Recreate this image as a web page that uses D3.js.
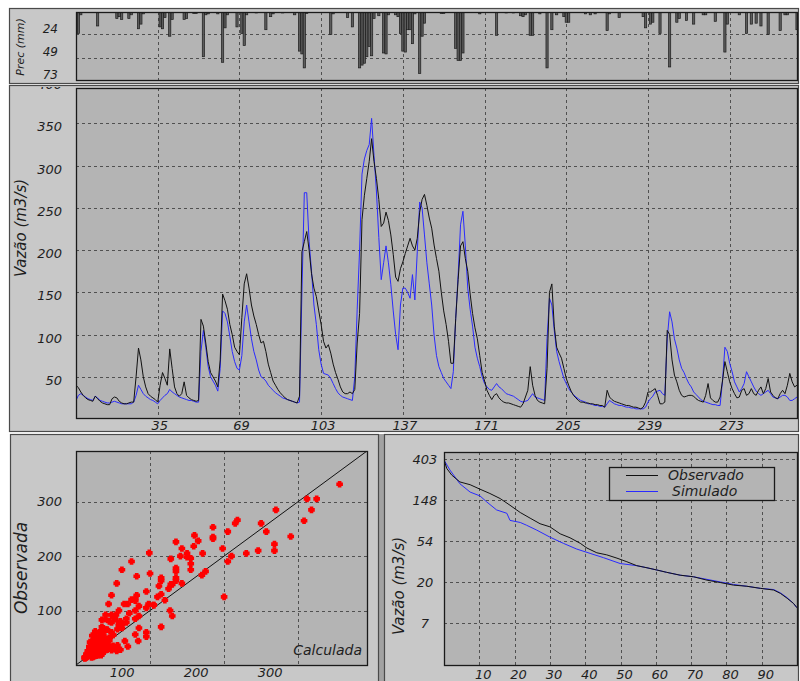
<!DOCTYPE html>
<html>
<head>
<meta charset="utf-8">
<script src="https://cdn.jsdelivr.net/npm/d3@7"></script>
<style>
  body { margin: 0; background: #fff; }
  svg text { font-family: "DejaVu Sans", sans-serif; font-style: italic; fill: #1e1e1e; }
</style>
</head>
<body>
<svg id="chart" width="800" height="681"></svg>
<script>
// ---- dados ----
var observado = [
  40, 37, 32, 28, 25, 23, 22, 21, 27, 24,
  21, 19, 18, 17, 17, 24, 26, 25, 21, 19,
  18, 18, 19, 20, 20, 50, 84, 70, 50, 38,
  30, 27, 25, 23, 20, 40, 55, 48, 40, 83,
  60, 38, 30, 27, 30, 44, 28, 25, 23, 22,
  21, 22, 118, 110, 90, 68, 55, 50, 45, 38,
  70, 148, 140, 130, 112, 100, 85, 80, 76, 120,
  160, 172, 155, 135, 122, 112, 100, 90, 92, 80,
  65, 55, 45, 40, 35, 31, 28, 25, 23, 22,
  21, 20, 19, 27, 198, 210, 222, 200, 172, 155,
  145, 128, 112, 92, 84, 88, 78, 65, 55, 47,
  38, 32, 30, 30, 32, 30, 35, 90, 125, 236,
  265, 285, 305, 332, 305, 285, 260, 228, 232, 245,
  235, 218, 195, 168, 163, 178, 186, 196, 205, 214,
  205, 200, 214, 245, 260, 266, 253, 238, 226, 206,
  190, 175, 150, 128, 112, 92, 66, 66, 119, 165,
  205, 210, 190, 175, 148, 125, 108, 95, 75, 55,
  45, 34, 28, 23, 28, 30, 25, 22, 20, 19,
  19, 18, 17, 16, 15, 14, 18, 26, 34, 62,
  40, 28, 22, 20, 19, 18, 60, 150, 160, 110,
  85, 78, 72, 60, 48, 40, 33, 28, 25, 22,
  20, 20, 19, 19, 18, 18, 17, 17, 16, 16,
  14, 34, 26, 23, 21, 20, 19, 18, 17, 16,
  16, 15, 14, 14, 13, 12, 14, 20, 32, 32,
  34, 36, 28, 18, 18, 20, 105, 100, 70, 52,
  44, 34, 28, 26, 27, 28, 28, 27, 24, 22,
  21, 20, 28, 42, 25, 22, 20, 20, 26, 45,
  68, 56, 44, 36, 30, 25, 26, 34, 36, 28,
  30, 36, 30, 28, 34, 38, 30, 36, 48, 32,
  28, 25, 24, 30, 34, 30, 40, 54, 44, 38,
  40
];
var simulado = [
  22, 28, 30, 28, 26, 24, 23, 22, 27, 25,
  22, 21, 20, 19, 19, 20, 21, 20, 19, 18,
  18, 18, 18, 18, 20, 28, 40, 35, 30, 27,
  25, 23, 22, 20, 18, 22, 25, 28, 30, 35,
  32, 30, 28, 26, 25, 24, 23, 22, 22, 21,
  20, 20, 80, 105, 85, 62, 50, 45, 40, 33,
  60, 128, 125, 115, 98, 80, 68, 60, 58, 75,
  115, 135, 115, 95, 80, 70, 58, 50, 48, 45,
  40, 37, 34, 31, 29, 27, 25, 24, 23, 22,
  21, 20, 19, 20, 150, 268, 268, 210, 175, 135,
  112, 82, 65, 54, 53, 52, 48, 42, 36, 31,
  28, 26, 25, 24, 23, 22, 50, 130, 200, 290,
  308, 318, 325, 356, 312, 270, 215, 165, 185, 205,
  185, 159, 128, 100, 82, 135, 155, 155, 150, 143,
  171, 141, 198, 257, 250, 218, 185, 160, 135, 99,
  75, 62, 55, 48, 44, 40, 36, 56, 120, 170,
  230, 246, 205, 155, 130, 110, 85, 72, 62, 50,
  42, 38, 35, 34, 38, 42, 38, 36, 33, 30,
  29, 28, 27, 25, 23, 21, 20, 21, 22, 26,
  30, 26, 25, 24, 23, 22, 95, 143, 135, 105,
  80, 68, 58, 48, 42, 36, 32, 29, 26, 24,
  22, 21, 20, 18, 18, 17, 16, 16, 15, 15,
  14, 18, 22, 20, 18, 17, 16, 16, 15, 14,
  14, 13, 13, 12, 12, 12, 12, 14, 20, 24,
  27, 32, 33, 34, 30, 28, 95, 127, 115, 95,
  84, 70, 60, 55, 48, 42, 38, 32, 29, 26,
  23, 21, 20, 19, 18, 17, 17, 16, 16, 45,
  85, 80, 66, 56, 44, 38, 32, 36, 42, 56,
  50, 44, 38, 33, 30, 28, 30, 32, 34, 30,
  26, 25, 24, 26, 28, 28, 26, 22, 22, 24,
  26
];
var dias = d3.range(1, observado.length + 1);

var precDia = [1,2,3,10,18,19,20,23,24,27,28,29,36,37,38,40,41,46,47,50,
  51,54,55,56,60,62,63,64,68,70,71,72,76,80,82,83,87,92,94,95,
  96,97,107,108,114,116,119,120,121,122,123,124,125,127,129,130,131,134,135,136,
  137,138,139,140,141,142,144,145,146,153,154,159,160,161,162,169,176,180,183,186,
  187,188,190,191,194,197,199,201,204,205,206,213,215,217,222,223,227,237,238,240,
  241,244,248,251,252,255,258,262,263,267,271,272,277,280,282,284,286,289,294,296,
  297,301];
var precMm = [23,23,3,15,7,5,8,7,3,18,13,2,16,18,6,26,8,8,7,1.5,
  1.5,48,3,2,2,54,17,3,16,23,36,3,1,19,5,2,1,3,42,45,
  60,1.5,24,2,6,16,60,57,55,48,37,47,7,4,44,45,3,3,5,23,
  42,43,19,19,34,2,66,26,12,1.5,1.5,39,52,52,44,2,25,1,1,4,
  5,3,25,25,2,60,19,3,5,11,11,2,3,2,20,2,6,5,17,13,
  11,23,59,11,7,9,13,3,3,10,43,13,3,23,13,12,15,24,20,3,
  3,19];

// curva de permanência (% do tempo, vazão)
var permObsPct = [0, 0.8, 2.2, 4.5, 7.4, 10.2, 13, 15.9, 18.7, 21.6, 24.4, 27.2, 30, 32.9, 35.7, 38.6, 40.5, 43.3, 46.1, 49,
  51.8, 54.6, 57.5, 60.3, 63.1, 66.9, 70.7, 74.5, 78.3, 82, 85.8, 89.6, 93.4, 95.3, 97.2, 99, 100];
var permObs = [390, 317, 270, 229, 214, 192, 173, 153, 130, 109, 95, 83, 77, 65, 59, 51.6, 46, 41, 39, 36,
  33, 30, 28.5, 27, 25.5, 23.8, 22.9, 21.1, 19.9, 18.7, 18.2, 17.3, 16.6, 15.3, 13.6, 12, 10.8];
var permSimPct = [0, 1.7, 4.5, 7.4, 10.2, 12.1, 14.9, 17.8, 18.7, 21.6, 23.4, 26.3, 30, 33.8, 37.6, 41.4, 45.2, 49.9,
  54.6, 57.5, 60.3, 63.1, 66.9, 70.7, 74.5, 78.3, 82, 85.8, 89.6, 93.4, 95.3, 97.2, 99, 100];
var permSim = [390, 305, 219, 179, 163, 141, 116, 107, 90, 85.6, 80, 71, 60, 51.6, 44.9, 40.4, 36.4, 31.6,
  30, 28.5, 27, 25.5, 23.8, 22.9, 21.5, 20.2, 19, 18.2, 17.3, 16.8, 15.5, 13.8, 12, 10.8];

var precTicks = [24, 49, 73];
var vazaoTicks = [50, 100, 150, 200, 250, 300, 350, 400];
var diaTicks = [35, 69, 103, 137, 171, 205, 239, 273];
var dispTicks = [100, 200, 300];
var permLnTicks = [2, 3, 4, 5, 6];
var permPctTicks = [10, 20, 30, 40, 50, 60, 70, 80, 90];
var legenda = ["Observado", "Simulado"];

// ---- desenho ----
var svg = d3.select("#chart");
var corPainel = "#c8c8c8", corArea = "#b4b4b4", corGrade = "#505050";
var corObs = "#111111", corSim = "#2a2aff";

function painel(x, y, w, h) {
  svg.append("rect").attr("x", x + 0.5).attr("y", y + 0.5)
    .attr("width", w).attr("height", h)
    .attr("fill", corPainel).attr("stroke", "#4a4a4a").attr("stroke-width", 1.2);
}

function areaGrafico(id, x0, y0, x1, y1) {
  svg.append("clipPath").attr("id", id)
    .append("rect").attr("x", x0).attr("y", y0).attr("width", x1 - x0).attr("height", y1 - y0);
  svg.append("rect").attr("x", x0 + 0.5).attr("y", y0 + 0.5)
    .attr("width", x1 - x0).attr("height", y1 - y0).attr("fill", corArea);
  return svg.append("g").attr("clip-path", "url(#" + id + ")");
}

function borda(x0, y0, x1, y1) {
  svg.append("rect").attr("x", x0 + 0.5).attr("y", y0 + 0.5)
    .attr("width", x1 - x0).attr("height", y1 - y0)
    .attr("fill", "none").attr("stroke", "#1a1a1a").attr("stroke-width", 1.3);
}

function gradeV(g, vals, xs, y0, y1) {
  g.selectAll(null).data(vals).enter().append("line")
    .attr("x1", function(d) { return Math.round(xs(d)) + 0.5; })
    .attr("x2", function(d) { return Math.round(xs(d)) + 0.5; })
    .attr("y1", y0).attr("y2", y1)
    .attr("stroke", corGrade).attr("stroke-dasharray", "3,3");
}
function gradeH(g, vals, ys, x0, x1) {
  g.selectAll(null).data(vals).enter().append("line")
    .attr("y1", function(d) { return Math.round(ys(d)) + 0.5; })
    .attr("y2", function(d) { return Math.round(ys(d)) + 0.5; })
    .attr("x1", x0).attr("x2", x1)
    .attr("stroke", corGrade).attr("stroke-dasharray", "3,3");
}

function tituloY(texto, x, y, tam) {
  svg.append("text").attr("transform", "translate(" + x + "," + y + ") rotate(-90)")
    .attr("text-anchor", "middle").style("font-size", tam + "px").text(texto);
}

// fundo cinza entre os painéis de baixo
svg.append("rect").attr("x", 378).attr("y", 434).attr("width", 7).attr("height", 250).attr("fill", "#a2a2a2");

painel(9, 8, 789, 75);
painel(9, 85, 789, 346);
painel(10, 434, 368, 260);
painel(384, 434, 414, 260);

var x = d3.scaleLinear().domain([1, 301]).range([76, 797]);

// ---- precipitação ----
var yPrec = d3.scaleLinear().domain([0, 73]).range([12, 80]);
var gp = areaGrafico("clipPrec", 76, 12, 797, 80);
gradeH(gp, precTicks.slice(0, 2), yPrec, 76, 797);
gradeV(gp, diaTicks, x, 12, 80);
gp.selectAll(".barra").data(d3.zip(precDia, precMm)).enter().append("rect")
  .attr("class", "barra")
  .attr("x", function(d) { return x(d[0]) - 1.1; })
  .attr("width", 2.2)
  .attr("y", yPrec(0))
  .attr("height", function(d) { return yPrec(d[1]) - yPrec(0); })
  .attr("fill", "#5c5c5c").attr("stroke", "#1c1c1c").attr("stroke-width", 0.7);
borda(76, 12, 797, 80);
svg.selectAll(".tkPrec").data(precTicks).enter().append("text")
  .attr("x", 58).attr("y", function(d) { return yPrec(d) - 1.5; })
  .attr("text-anchor", "end").style("font-size", "12px").text(function(d) { return d; });
tituloY("Prec (mm)", 24, 47, 11);

// ---- hidrograma ----
var y = d3.scaleLinear().domain([0, 392]).range([419, 88]);
var gm = areaGrafico("clipVazao", 76, 88, 797, 418);
gradeH(gm, vazaoTicks, y, 76, 797);
gradeV(gm, diaTicks, x, 88, 418);
var linha = function(serie) {
  return d3.line().x(function(d, i) { return x(dias[i]); }).y(function(d) { return y(d); })(serie);
};
gm.append("path").attr("d", linha(simulado)).attr("fill", "none").attr("stroke", corSim).attr("stroke-width", 1);
gm.append("path").attr("d", linha(observado)).attr("fill", "none").attr("stroke", corObs).attr("stroke-width", 1);
borda(76, 88, 797, 418);

// o rótulo do topo fica quase todo escondido pela borda do painel
svg.append("clipPath").attr("id", "clipPainel").append("rect").attr("x", 9).attr("y", 87).attr("width", 790).attr("height", 344);
svg.append("g").attr("clip-path", "url(#clipPainel)")
  .selectAll("text").data(vazaoTicks).enter().append("text")
  .attr("x", 62).attr("y", function(d) { return y(d) + 8; })
  .attr("text-anchor", "end").style("font-size", "13px").text(function(d) { return d; });
svg.selectAll(".tkDia").data(diaTicks).enter().append("text")
  .attr("x", function(d) { return x(d) + 2; }).attr("y", 429.5)
  .attr("text-anchor", "middle").style("font-size", "13px").text(function(d) { return d; });
tituloY("Vazão (m3/s)", 26, 228, 15);

// ---- dispersão ----
var xd = d3.scaleLinear().domain([0, 393]).range([76, 367]);
var yd = d3.scaleLinear().domain([0, 393]).range([665, 451]);
var gd = areaGrafico("clipDisp", 76, 451, 367, 665);
gradeH(gd, dispTicks, yd, 76, 367);
gradeV(gd, dispTicks, xd, 451, 665);
gd.append("line").attr("x1", xd(0)).attr("y1", yd(0)).attr("x2", xd(393)).attr("y2", yd(393))
  .attr("stroke", "#111").attr("stroke-width", 1);
// cruz de braços grossos, como os marcadores do original
var cruzGrossa = {
  draw: function(ctx, size) {
    var e = Math.sqrt(size) / 2, t = e * 0.55;
    ctx.moveTo(-t, -e); ctx.lineTo(t, -e); ctx.lineTo(t, -t); ctx.lineTo(e, -t);
    ctx.lineTo(e, t); ctx.lineTo(t, t); ctx.lineTo(t, e); ctx.lineTo(-t, e);
    ctx.lineTo(-t, t); ctx.lineTo(-e, t); ctx.lineTo(-e, -t); ctx.lineTo(-t, -t);
    ctx.closePath();
  }
};
var simbolo = d3.symbol().type(cruzGrossa).size(44);
gd.selectAll(".ponto").data(d3.zip(simulado, observado)).enter().append("path")
  .attr("class", "ponto")
  .attr("transform", function(d) { return "translate(" + xd(d[0]) + "," + yd(d[1]) + ")"; })
  .attr("d", simbolo).attr("fill", "#ff0000");
borda(76, 451, 367, 665);
svg.append("text").attr("x", 362).attr("y", 655).attr("text-anchor", "end")
  .style("font-size", "14px").text("Calculada");
svg.selectAll(".tkDy").data(dispTicks).enter().append("text")
  .attr("x", 62).attr("y", function(d) { return yd(d) + 4.5; })
  .attr("text-anchor", "end").style("font-size", "13px").text(function(d) { return d; });
svg.selectAll(".tkDx").data(dispTicks).enter().append("text")
  .attr("x", function(d) { return xd(d) - 28; }).attr("y", 677)
  .attr("text-anchor", "middle").style("font-size", "13px").text(function(d) { return d; });
tituloY("Observada", 27, 568, 17);

// ---- curva de permanência ----
var xp = d3.scaleLinear().domain([0, 100]).range([444, 797]);
var yp = d3.scaleLog().base(Math.E).domain([Math.exp(0.99), Math.exp(6.16)]).range([665, 452]);
var gc = areaGrafico("clipPerm", 444, 452, 797, 665);
gradeH(gc, permLnTicks.map(Math.exp), yp, 444, 797);
gradeV(gc, permPctTicks, xp, 452, 665);
var linhaPerm = d3.line().x(function(d) { return xp(d[0]); }).y(function(d) { return yp(d[1]); });
gc.append("path").attr("d", linhaPerm(d3.zip(permSimPct, permSim)))
  .attr("fill", "none").attr("stroke", corSim).attr("stroke-width", 1);
gc.append("path").attr("d", linhaPerm(d3.zip(permObsPct, permObs)))
  .attr("fill", "none").attr("stroke", corObs).attr("stroke-width", 1);
borda(444, 452, 797, 665);
svg.selectAll(".tkPy").data(permLnTicks).enter().append("text")
  .attr("x", 425).attr("y", function(d) { return yp(Math.exp(d)) + 5; })
  .attr("text-anchor", "middle").style("font-size", "13px")
  .text(function(d) { return Math.floor(Math.exp(d)); });
svg.selectAll(".tkPx").data(permPctTicks).enter().append("text")
  .attr("x", function(d) { return xp(d) + 4; }).attr("y", 678.5)
  .attr("text-anchor", "middle").style("font-size", "13px").text(function(d) { return d; });
tituloY("Vazão (m3/s)", 404, 586, 15);

// legenda
var leg = svg.append("g");
leg.append("rect").attr("x", 609.5).attr("y", 467.5).attr("width", 165).attr("height", 33)
  .attr("fill", corArea).attr("stroke", "#1a1a1a").attr("stroke-width", 1.3);
leg.selectAll("line").data(legenda).enter().append("line")
  .attr("x1", 626).attr("x2", 658)
  .attr("y1", function(d, i) { return 475.5 + i * 16; })
  .attr("y2", function(d, i) { return 475.5 + i * 16; })
  .attr("stroke", function(d, i) { return i === 0 ? corObs : corSim; });
leg.selectAll("text").data(legenda).enter().append("text")
  .attr("x", function(d, i) { return i === 0 ? 668 : 672; })
  .attr("y", function(d, i) { return 480 + i * 16; })
  .style("font-size", "14px").text(function(d) { return d; });
</script>
</body>
</html>
